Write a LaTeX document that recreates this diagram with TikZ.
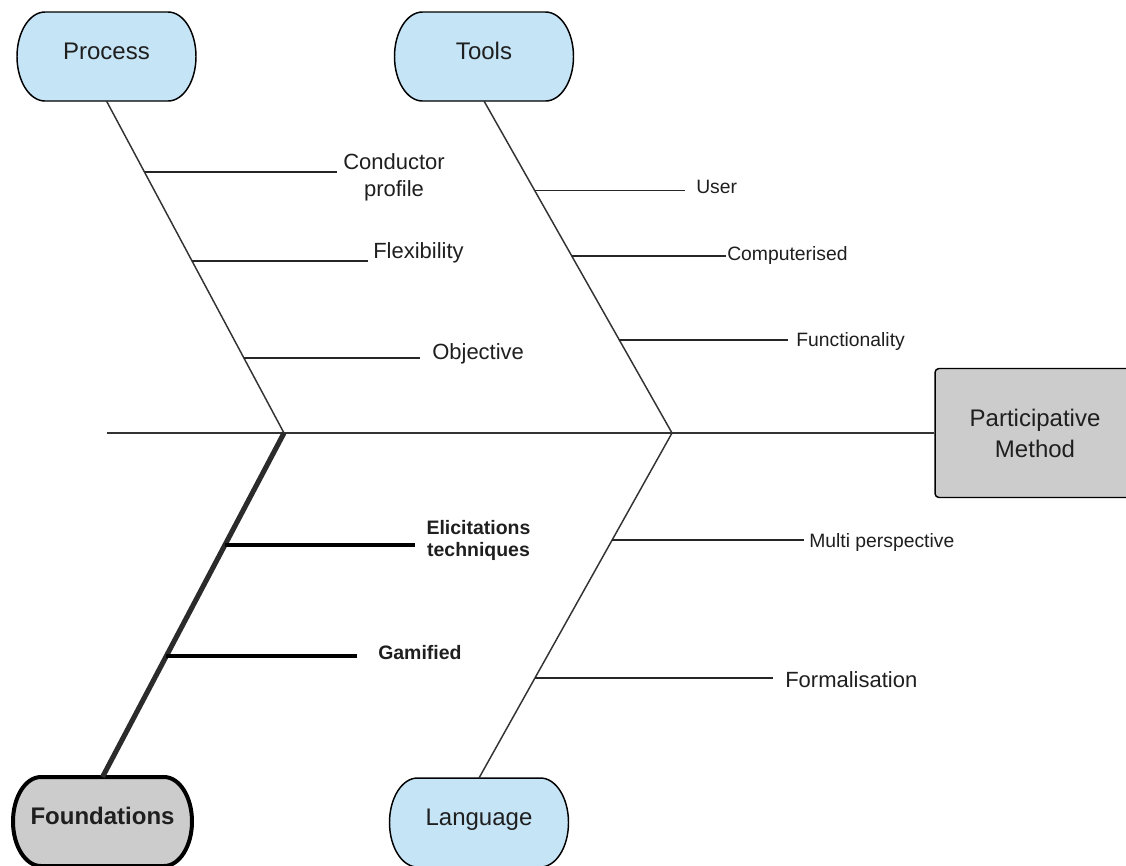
\documentclass[tikz,border=0pt]{standalone}
\usepackage{fontspec}
\setmainfont{Liberation Sans}
\usetikzlibrary{calc,backgrounds}
\definecolor{pillblue}{HTML}{C5E4F6}
\definecolor{boxgray}{HTML}{CCCCCC}
\definecolor{linegray}{HTML}{333333}
\definecolor{txt}{HTML}{1F1F1F}
\newcommand{\pillshape}[3]{\draw[line width=#3, draw=black, fill=#2]
 ($(#1.north west)+(21pt,0pt)$) -- ($(#1.north east)+(-21pt,0pt)$)
 arc[start angle=90,end angle=-90,x radius=21pt,y radius=33.375pt]
 -- ($(#1.south west)+(21pt,0pt)$)
 arc[start angle=270,end angle=90,x radius=21pt,y radius=33.375pt] -- cycle;}
\tikzset{
  pill/.style={minimum width=134.25pt, minimum height=66.75pt, inner sep=0pt, outer sep=0pt,
    text height=0.72em, text depth=0.3em,
    font=\fontsize{18}{21}\selectfont, text=txt},
  bone/.style={draw=linegray, line width=1.1pt},
  thickbone/.style={draw=linegray!85!black, line width=3.8pt},
  rib/.style={draw=black!85, line width=1.1pt},
  thickrib/.style={draw=black, line width=3.6pt},
  biglbl/.style={inner sep=0pt, text=txt, font=\fontsize{16.5}{20.25}\selectfont, align=center},
  smalllbl/.style={inner sep=0pt, text=txt, font=\fontsize{14.5}{17}\selectfont},
  boldlbl/.style={inner sep=0pt, text=txt, font=\fontsize{14.6}{16.5}\selectfont\bfseries, align=center},
}
\begin{document}
\begin{tikzpicture}[x=0.75pt,y=-0.75pt]
\useasboundingbox (0,0) rectangle (1126,865);
% category nodes
\node[pill] (process) at (106.5,56.5) {Process};
\node[pill] (tools) at (484,56.5) {Tools};
\node[pill, font=\fontsize{18}{21}\selectfont\bfseries] (found) at (102.5,821.5) {Foundations};
\node[pill] (lang) at (479,822.5) {Language};
\node[draw=black, line width=1.1pt, fill=boxgray, rounded corners=3pt, minimum width=150pt,
  minimum height=96.75pt, align=center, text=txt, font=\fontsize{18}{23.25}\selectfont]
  (method) at (1035,433) {Participative\\Method};
\begin{scope}[on background layer]
\fill[white] (0,0) rectangle (1126,865);
\pillshape{process}{pillblue}{1.1pt}
\pillshape{tools}{pillblue}{1.1pt}
\pillshape{lang}{pillblue}{1.1pt}
\pillshape{found}{boxgray}{3pt}
\end{scope}
% spine and bones
\coordinate (s0) at (107,433);
\coordinate (j1) at (284,433);
\coordinate (j2) at (672,433);
\draw[bone, line width=1.3pt] (s0) -- (method.west);
\draw[bone] (process.south) -- (j1);
\draw[bone] (tools.south) -- (j2);
\draw[bone] (j2) -- (lang.north);
\draw[thickbone] (j1) -- (found.north);
% labels
\node[biglbl] (conductor) at (394,177) {Conductor\\profile};
\node[biglbl, anchor=base west] (flex) at (373,258.5) {Flexibility};
\node[biglbl, anchor=base west] (objective) at (432,359) {Objective};
\node[smalllbl, anchor=base west] (user) at (696,193.5) {User};
\node[smalllbl, anchor=base west] (comp) at (727,260) {Computerised};
\node[smalllbl, anchor=base west] (func) at (796,346.5) {Functionality};
\node[boldlbl] (elicit) at (478.5,540) {Elicitations\\techniques};
\node[boldlbl, anchor=base west] (gamified) at (378,659.5) {Gamified};
\node[smalllbl, anchor=base west] (multi) at (809,547.5) {Multi perspective};
\node[biglbl, anchor=base west] (formal) at (785,687) {Formalisation};
% rib start points on the bones
\coordinate (r1) at (144.5,172);
\coordinate (r2) at (192,261);
\coordinate (r3) at (243.9,358);
\coordinate (r4) at (534.7,190.5);
\coordinate (r5) at (571.8,256);
\coordinate (r6) at (619.3,340);
\coordinate (r7) at (224.9,545);
\coordinate (r8) at (166.3,656);
\coordinate (r9) at (612.1,540);
\coordinate (r10) at (534.9,678);
% ribs
\draw[rib, shorten >=4.5pt] (r1) -- (r1 -| conductor.west);
\draw[rib, shorten >=3.75pt] (r2) -- (r2 -| flex.west);
\draw[rib, shorten >=9pt] (r3) -- (r3 -| objective.west);
\draw[rib, shorten >=8.25pt] (r4) -- (r4 -| user.west);
\draw[rib, shorten >=0.75pt] (r5) -- (r5 -| comp.west);
\draw[rib, shorten >=6pt] (r6) -- (r6 -| func.west);
\draw[thickrib, shorten >=8.25pt] (r7) -- (r7 -| elicit.west);
\draw[thickrib, shorten >=15.75pt] (r8) -- (r8 -| gamified.west);
\draw[rib, shorten >=3.75pt] (r9) -- (r9 -| multi.west);
\draw[rib, shorten >=9pt] (r10) -- (r10 -| formal.west);
\end{tikzpicture}
\end{document}
